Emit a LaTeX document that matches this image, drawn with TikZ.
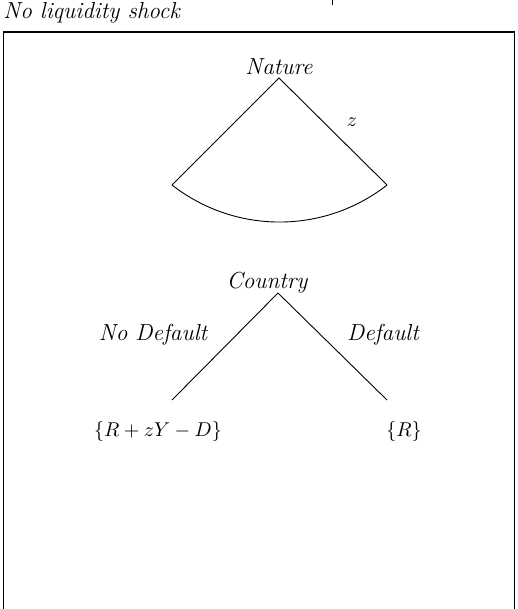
\documentclass[tikz,border=0pt]{standalone}
\begin{document}
\begin{tikzpicture}[x=0.5pt,y=-0.5pt,
  lbl/.style={inner sep=0pt,font=\fontsize{11.6}{14}\selectfont\itshape},
  mlbl/.style={inner sep=0pt,font=\fontsize{10.4}{12.5}\selectfont},
  edge/.style={line width=0.45pt},
  frame/.style={line width=0.55pt}]
\useasboundingbox (0,0) rectangle (518,609);
\begin{scope}
\clip (0,0) rectangle (518,609);
\draw[frame] (3.5,32) rectangle (514.5,640);
\end{scope}
\draw[line width=0.8pt] (332.5,0) -- (332.5,5);
\node[lbl,anchor=west] (title) at (3,13) {No liquidity shock};
% Nature
\node[lbl] (nature) at (279,67) {Nature};
\coordinate (napex) at (279,78);
\coordinate (nl) at (172,185);
\coordinate (nr) at (387,185);
\draw[edge] (nl) -- (napex) -- (nr);
\draw[edge] (nl) arc[start angle=128, end angle=52, radius=174.7];
\node[mlbl] (z) at (352,122) {$z$};
% Country
\node[lbl] (country) at (267,283) {Country};
\coordinate (capex) at (278,293);
\coordinate (cl) at (172,400);
\coordinate (cr) at (387,400);
\draw[edge] (cl) -- (capex) -- (cr);
\node[lbl] (nodef) at (153,335) {No Default};
\node[lbl] (def) at (383,335) {Default};
\node[mlbl] (payl) at (158,431) {$\{R+zY-D\}$};
\node[mlbl] (payr) at (404,431) {$\{R\}$};
\end{tikzpicture}
\end{document}
